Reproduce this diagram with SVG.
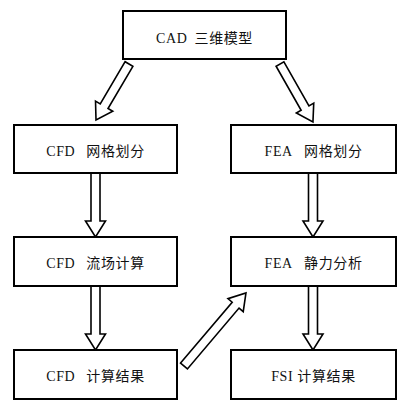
<svg xmlns="http://www.w3.org/2000/svg" width="409" height="418" viewBox="0 0 409 418">
<style>
.box{fill:#fff;stroke:#000;stroke-width:2}
.lbl{font-family:"Liberation Serif","Noto Sans CJK SC",serif;font-size:14px;fill:#111;text-anchor:middle;letter-spacing:0.6px}
.arr{fill:#fff;stroke:#000;stroke-width:1.6;stroke-linejoin:miter}
</style>
<rect width="409" height="418" fill="#fff"/>
<g id="connectors">
<path class="arr" transform="translate(129,64) rotate(120.5)" d="M0,-4.5 L49,-4.5 L49,-10 L65,0 L49,10 L49,4.5 L0,4.5 Z"/>
<path class="arr" transform="translate(280,64) rotate(60.4)" d="M0,-4.5 L50.7,-4.5 L50.7,-10 L66.7,0 L50.7,10 L50.7,4.5 L0,4.5 Z"/>
<path class="arr" transform="translate(95.5,173) rotate(90)" d="M0,-4.5 L48,-4.5 L48,-10 L64,0 L48,10 L48,4.5 L0,4.5 Z"/>
<path class="arr" transform="translate(313,173) rotate(90)" d="M0,-4.5 L48,-4.5 L48,-10 L64,0 L48,10 L48,4.5 L0,4.5 Z"/>
<path class="arr" transform="translate(95.5,286) rotate(90)" d="M0,-4.5 L48,-4.5 L48,-10 L64,0 L48,10 L48,4.5 L0,4.5 Z"/>
<path class="arr" transform="translate(313,286) rotate(90)" d="M0,-4.5 L48,-4.5 L48,-10 L64,0 L48,10 L48,4.5 L0,4.5 Z"/>
<path class="arr" transform="translate(184,366) rotate(-49.7)" d="M0,-4.5 L79.8,-4.5 L79.8,-10 L95.8,0 L79.8,10 L79.8,4.5 L0,4.5 Z"/>
</g>
<g id="cad">
<rect class="box" x="123" y="11" width="163" height="48"/>
<text class="lbl" x="204.5" y="43">CAD <tspan dx="3">三维模型</tspan></text>
</g>
<g id="cfd-mesh">
<rect class="box" x="14" y="125" width="163" height="48"/>
<text class="lbl" x="95.5" y="156">CFD <tspan dx="7">网格划分</tspan></text>
</g>
<g id="fea-mesh">
<rect class="box" x="231" y="125" width="165" height="48"/>
<text class="lbl" x="313.5" y="156">FEA <tspan dx="8">网格划分</tspan></text>
</g>
<g id="cfd-flow">
<rect class="box" x="14" y="237" width="163" height="49"/>
<text class="lbl" x="95.5" y="268">CFD <tspan dx="7">流场计算</tspan></text>
</g>
<g id="fea-static">
<rect class="box" x="231" y="237" width="165" height="49"/>
<text class="lbl" x="313.5" y="268">FEA <tspan dx="8">静力分析</tspan></text>
</g>
<g id="cfd-result">
<rect class="box" x="14" y="350" width="163" height="49"/>
<text class="lbl" x="95.5" y="381">CFD <tspan dx="7">计算结果</tspan></text>
</g>
<g id="fsi-result">
<rect class="box" x="231" y="350" width="165" height="49"/>
<text class="lbl" x="313.5" y="381">FSI 计算结果</text>
</g>
</svg>
